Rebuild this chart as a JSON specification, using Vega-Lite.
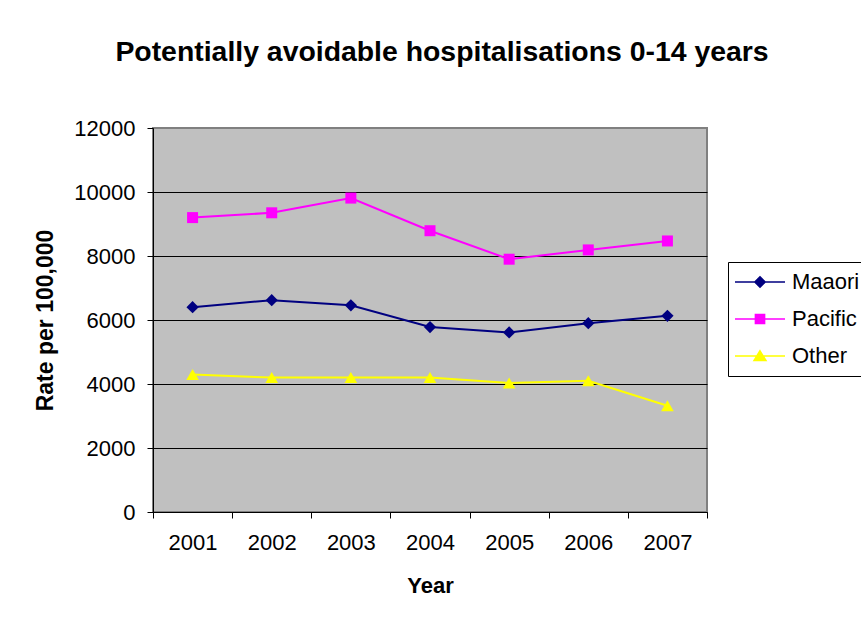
{
  "$schema": "https://vega.github.io/schema/vega-lite/v6.json",
  "width": 554,
  "height": 384,
  "autosize": "none",
  "padding": {"left": 153, "top": 128, "right": 154, "bottom": 107},
  "background": "white",
  "title": {
    "text": "Potentially avoidable hospitalisations 0-14 years",
    "font": "Liberation Sans",
    "fontSize": 28.4,
    "fontWeight": "bold",
    "color": "black",
    "anchor": "middle",
    "frame": "group",
    "offset": 50,
    "dx": 12
  },
  "config": {
    "view": {"fill": "#C0C0C0", "stroke": "#808080", "strokeWidth": 2}
  },
  "data": {
    "values": [
      {"year": "2001", "series": "Maaori", "rate": 6400},
      {"year": "2002", "series": "Maaori", "rate": 6620},
      {"year": "2003", "series": "Maaori", "rate": 6460},
      {"year": "2004", "series": "Maaori", "rate": 5780},
      {"year": "2005", "series": "Maaori", "rate": 5610},
      {"year": "2006", "series": "Maaori", "rate": 5900},
      {"year": "2007", "series": "Maaori", "rate": 6130},
      {"year": "2001", "series": "Pacific", "rate": 9200},
      {"year": "2002", "series": "Pacific", "rate": 9350},
      {"year": "2003", "series": "Pacific", "rate": 9810},
      {"year": "2004", "series": "Pacific", "rate": 8790},
      {"year": "2005", "series": "Pacific", "rate": 7900},
      {"year": "2006", "series": "Pacific", "rate": 8190},
      {"year": "2007", "series": "Pacific", "rate": 8470},
      {"year": "2001", "series": "Other", "rate": 4300},
      {"year": "2002", "series": "Other", "rate": 4200},
      {"year": "2003", "series": "Other", "rate": 4200},
      {"year": "2004", "series": "Other", "rate": 4200},
      {"year": "2005", "series": "Other", "rate": 4030},
      {"year": "2006", "series": "Other", "rate": 4100},
      {"year": "2007", "series": "Other", "rate": 3320}
    ]
  },
  "encoding": {
    "x": {
      "field": "year",
      "type": "ordinal",
      "scale": {"paddingInner": 0, "paddingOuter": 0},
      "axis": {
        "title": "Year",
        "labelAngle": 0,
        "tickBand": "extent",
        "grid": false,
        "domainColor": "black",
        "domainWidth": 1,
        "tickColor": "black",
        "tickWidth": 1,
        "tickSize": 6,
        "labelPadding": 14,
        "labelFont": "Liberation Sans",
        "labelFontSize": 22,
        "labelColor": "black",
        "titleFont": "Liberation Sans",
        "titleFontSize": 22,
        "titleFontWeight": "bold",
        "titleColor": "black",
        "titlePadding": 22
      }
    },
    "y": {
      "field": "rate",
      "type": "quantitative",
      "scale": {"domain": [0, 12000], "nice": false},
      "axis": {
        "title": "Rate per 100,000",
        "values": [0, 2000, 4000, 6000, 8000, 10000, 12000],
        "format": "d",
        "grid": true,
        "gridColor": {"condition": {"test": "datum.value === 12000", "value": "#808080"}, "value": "black"},
        "gridWidth": 1,
        "gridOpacity": 1,
        "domainColor": "black",
        "domainWidth": 1,
        "tickColor": "black",
        "tickWidth": 1,
        "tickSize": 6,
        "labelPadding": 12,
        "labelFont": "Liberation Sans",
        "labelFontSize": 22,
        "labelColor": "black",
        "titleFont": "Liberation Sans",
        "titleFontSize": 23,
        "titleFontWeight": "bold",
        "titleColor": "black",
        "titlePadding": 16
      }
    },
    "color": {
      "field": "series",
      "type": "nominal",
      "scale": {"domain": ["Maaori", "Pacific", "Other"], "range": ["#000080", "#FF00FF", "#FFFF00"]},
      "legend": {
        "title": null,
        "orient": "none",
        "legendX": 575,
        "legendY": 134,
        "padding": 9,
        "strokeColor": "black",
        "fillColor": "white",
        "labelFont": "Liberation Sans",
        "labelFontSize": 22,
        "labelColor": "black",
        "symbolSize": 64,
        "symbolOffset": 12,
        "labelOffset": 21,
        "rowPadding": 15,
        "symbolStrokeWidth": 1.5,
        "encode": {
          "symbols": {
            "update": {
              "shape": {"signal": "datum.value === 'Maaori' ? 'M-6.25,0H6.25M0,-1.3L1.3,0L0,1.3L-1.3,0Z' : datum.value === 'Pacific' ? 'M-6.25,0H6.25M-1.15,-1.15H1.15V1.15H-1.15Z' : 'M-6.25,0H6.25M0,-1.3L1.5,1.15H-1.5Z'"},
              "fill": {"signal": "scale('color', datum.value)"},
              "stroke": {"signal": "scale('color', datum.value)"},
              "strokeWidth": {"value": 1.5},
              "opacity": {"value": 1}
            }
          }
        }
      }
    }
  },
  "layer": [
    {"mark": {"type": "line", "strokeWidth": 2}},
    {
      "transform": [{"filter": "datum.series === 'Maaori'"}],
      "mark": {"type": "point", "shape": "diamond", "filled": true, "opacity": 1, "size": 150}
    },
    {
      "transform": [{"filter": "datum.series === 'Pacific'"}],
      "mark": {"type": "point", "shape": "square", "filled": true, "opacity": 1, "size": 121}
    },
    {
      "transform": [{"filter": "datum.series === 'Other'"}],
      "mark": {"type": "point", "shape": "triangle-up", "filled": true, "opacity": 1, "size": 160}
    }
  ]
}
